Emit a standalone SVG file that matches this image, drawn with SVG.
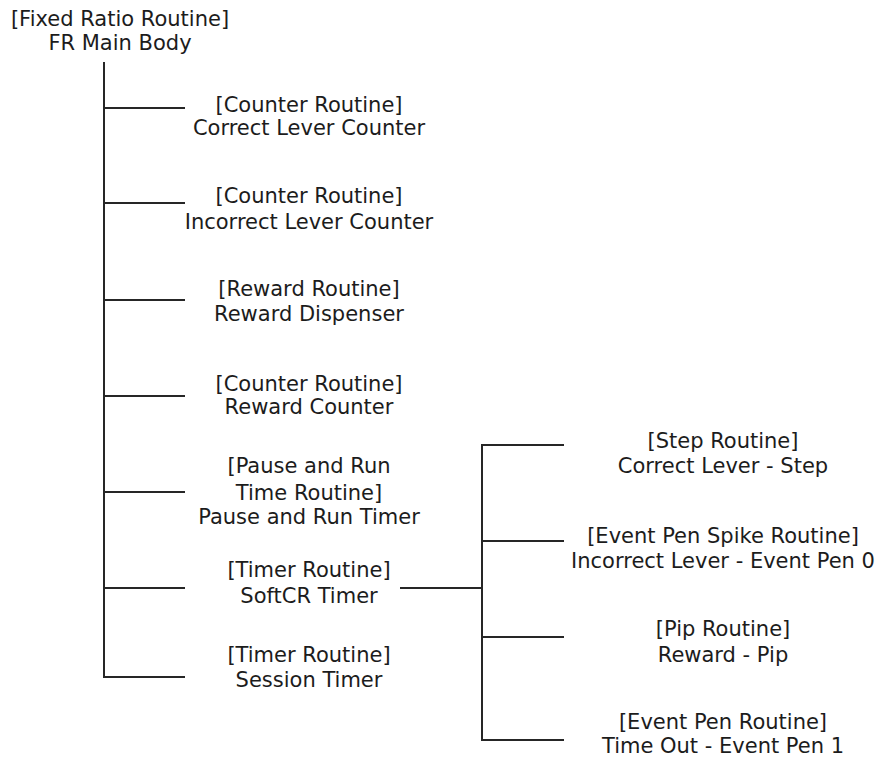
<svg xmlns="http://www.w3.org/2000/svg" width="880" height="758" viewBox="0 0 880 758">
  <style>
    text { font-family: Verdana, "DejaVu Sans", sans-serif; font-size: 21px; fill: #1c1c1c; text-anchor: middle; }
    .wire { stroke: #262626; stroke-width: 2; fill: none; stroke-linecap: square; }
  </style>
  <rect width="880" height="758" fill="#ffffff"/>

  <!-- tree connectors -->
  <g id="connectors">
    <path class="wire" d="M104 63 V677 H184"/>
    <path class="wire" d="M104 108 H184 M104 203 H184 M104 300 H184 M104 396 H184 M104 492 H184 M104 588 H184"/>
    <path class="wire" d="M401 588 H482"/>
    <path class="wire" d="M563 445 H482 V740 H563"/>
    <path class="wire" d="M482 541 H563 M482 637 H563"/>
  </g>

  <g id="fr-main-body">
    <text x="120" y="26">[Fixed Ratio Routine]</text>
    <text x="120" y="50">FR Main Body</text>
  </g>

  <g id="correct-lever-counter">
    <text x="309" y="112">[Counter Routine]</text>
    <text x="309" y="135">Correct Lever Counter</text>
  </g>

  <g id="incorrect-lever-counter">
    <text x="309" y="203">[Counter Routine]</text>
    <text x="309" y="229">Incorrect Lever Counter</text>
  </g>

  <g id="reward-dispenser">
    <text x="309" y="296">[Reward Routine]</text>
    <text x="309" y="321">Reward Dispenser</text>
  </g>

  <g id="reward-counter">
    <text x="309" y="391">[Counter Routine]</text>
    <text x="309" y="414">Reward Counter</text>
  </g>

  <g id="pause-and-run-timer">
    <text x="309" y="473">[Pause and Run</text>
    <text x="309" y="500">Time Routine]</text>
    <text x="309" y="524">Pause and Run Timer</text>
  </g>

  <g id="softcr-timer">
    <text x="309" y="577">[Timer Routine]</text>
    <text x="309" y="603">SoftCR Timer</text>
  </g>

  <g id="session-timer">
    <text x="309" y="662">[Timer Routine]</text>
    <text x="309" y="687">Session Timer</text>
  </g>

  <g id="correct-lever-step">
    <text x="723" y="448">[Step Routine]</text>
    <text x="723" y="473">Correct Lever - Step</text>
  </g>

  <g id="incorrect-lever-event-pen-0">
    <text x="723" y="543">[Event Pen Spike Routine]</text>
    <text x="723" y="568">Incorrect Lever - Event Pen 0</text>
  </g>

  <g id="reward-pip">
    <text x="723" y="636">[Pip Routine]</text>
    <text x="723" y="662">Reward - Pip</text>
  </g>

  <g id="time-out-event-pen-1">
    <text x="723" y="729">[Event Pen Routine]</text>
    <text x="723" y="753">Time Out - Event Pen 1</text>
  </g>
</svg>
